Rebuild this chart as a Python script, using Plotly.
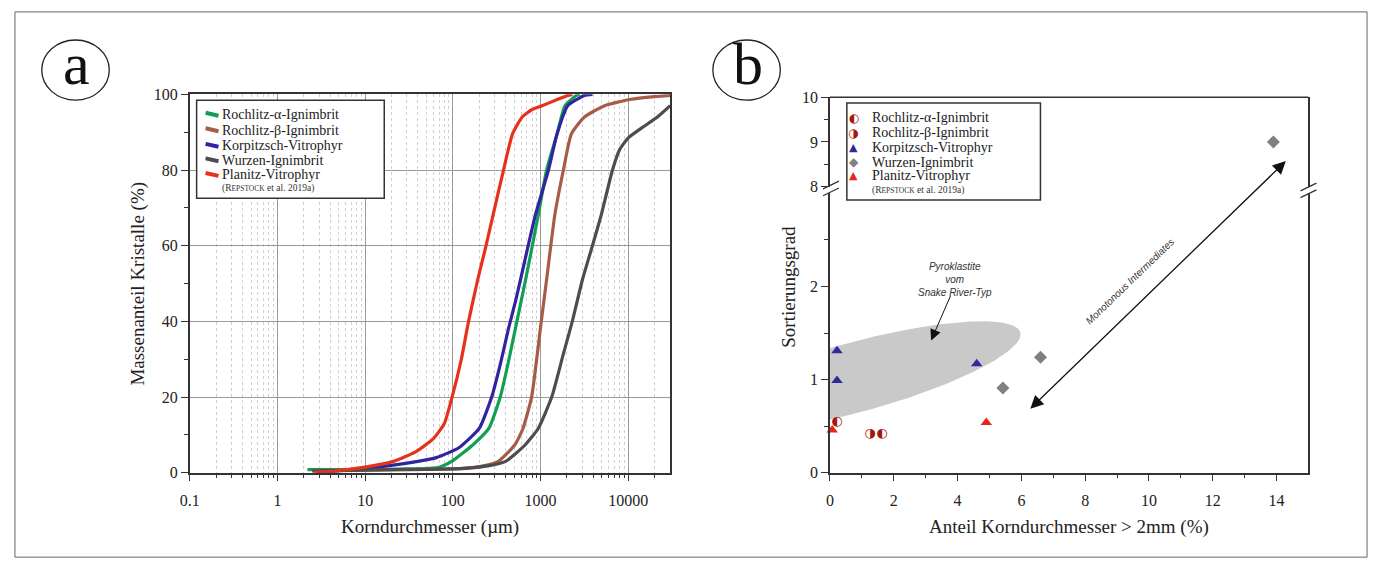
import numpy as np
import plotly.graph_objects as go

W, H = 1373, 571

# ---------------- Panel a data (grain size, µm  vs cumulative %) ----------------
names_a = ["Rochlitz-α-Ignimbrit", "Rochlitz-β-Ignimbrit", "Korpitzsch-Vitrophyr",
           "Wurzen-Ignimbrit", "Planitz-Vitrophyr"]
colors_a = ["#10a055", "#a65c48", "#3124a0", "#4d4d4d", "#e8311c"]

alpha_x = [2.2, 5, 10, 30, 65, 80, 100, 170, 257, 347, 427, 537, 675, 940, 1170, 1540, 1900, 2570, 2800]
alpha_y = [0.8, 0.8, 0.85, 1.0, 1.3, 2.0, 3.2, 7.4, 11.7, 20, 29, 40, 51, 68, 80, 89.5, 97, 99.7, 100]

beta_x = [2.5, 10, 50, 100, 140, 200, 330, 510, 630, 790, 1000, 1200, 1450, 1820, 2240, 3160, 5370, 10700, 20000, 30000]
beta_y = [0.5, 0.7, 0.9, 1.0, 1.2, 1.6, 3, 7.4, 11.7, 20, 38.5, 53, 68, 80, 89.5, 94, 97, 98.7, 99.4, 99.7]

korp_x = [2.8, 5, 10, 18, 40, 65, 117, 200, 277, 350, 430, 520, 590, 870, 1230, 1540, 2040, 3160, 3900]
korp_y = [0.1, 0.5, 1.2, 1.8, 3, 4, 6.6, 11.7, 20, 29, 38, 45.5, 51, 68, 80, 89.5, 97, 99.7, 100]

wurzen_x = [2.5, 10, 50, 100, 150, 250, 400, 670, 940, 1340, 1800, 2300, 3000, 3900, 4900, 6600, 8000, 10000, 15000, 21500, 30000]
wurzen_y = [0.5, 0.7, 0.9, 1.0, 1.2, 1.8, 3, 7.4, 11.7, 20, 31, 40, 51, 60, 68, 80, 85.5, 88.5, 91.5, 94, 97]

planitz_x = [2.6, 5, 10, 21, 38, 60, 80, 98, 125, 151, 192, 236, 300, 378, 478, 617, 800, 1040, 1500, 2040, 2300]
planitz_y = [0.1, 0.6, 1.5, 3, 5.6, 9, 13, 20, 30, 40, 51, 59.5, 70, 80, 89.5, 94, 96, 97, 98.5, 99.7, 100]

curves_a = [(alpha_x, alpha_y), (beta_x, beta_y), (korp_x, korp_y), (wurzen_x, wurzen_y), (planitz_x, planitz_y)]

xa_major = [0.1, 1, 10, 100, 1000, 10000]
xa_labels = ["0.1", "1", "10", "100", "1000", "10000"]
xa_minor = [m * 10.0 ** e for e in range(-1, 5) for m in range(2, 10) if m * 10.0 ** e < 30000]
ya_major = [0, 20, 40, 60, 80, 100]
ya_minor = [10, 30, 50, 70, 90]

# ---------------- Panel b data (share > 2 mm vs sorting) ----------------
names_b = ["Rochlitz-α-Ignimbrit", "Rochlitz-β-Ignimbrit", "Korpitzsch-Vitrophyr",
           "Wurzen-Ignimbrit", "Planitz-Vitrophyr"]
ralpha_x, ralpha_y = [0.22, 1.63], [0.55, 0.42]
rbeta_x, rbeta_y = [1.25], [0.42]
korp_b_x, korp_b_y = [0.22, 0.22, 4.6], [1.31, 0.99, 1.17]
wurzen_b_x, wurzen_b_y = [5.42, 6.6, 13.9], [0.91, 1.24, 9.0]
planitz_b_x, planitz_b_y = [0.07, 4.9], [0.46, 0.54]

xb_major = [0, 2, 4, 6, 8, 10, 12, 14]
xb_minor = [1, 3, 5, 7, 9, 11, 13]
yb_low_major, yb_low_minor = [0, 1, 2], [0.5, 1.5, 2.5]
yb_up_major, yb_up_minor = [8, 9, 10], [8.5, 9.5]

# ---------------- layout geometry ----------------
def px(x):
    return x / W

def py(y):
    return 1 - y / H

xa_dom = [px(181), px(665)]
ya_dom = [py(479), py(89)]
xb_dom = [px(826), px(1308)]
yb_low_dom = [py(479), py(191)]
yb_up_dom = [py(184), py(92)]
xb_rng = [0, 15]
yb_low_rng = [0, 3]
yb_up_rng = [8, 10]

SERIF = "Liberation Serif"
SANS = "Liberation Sans"
AX = "#333333"

fig = go.Figure()

for (xs, ys), nm, col in zip(curves_a, names_a, colors_a):
    fig.add_trace(go.Scatter(x=xs, y=ys, mode="lines", name=nm, showlegend=False,
                             line=dict(color=col, width=3.2, shape="spline", smoothing=0.5),
                             xaxis="x", yaxis="y"))

# Snake River field ellipse (px-based shape transformed to data units)
kx = (xb_dom[1] - xb_dom[0]) * W / (xb_rng[1] - xb_rng[0])
ky = (yb_low_dom[1] - yb_low_dom[0]) * H / (yb_low_rng[1] - yb_low_rng[0])
ell_cx, ell_cy, ell_a, ell_b, ell_th = 0.75, 1.02, 174, 36, np.deg2rad(15.6)
phi = np.linspace(0, 2 * np.pi, 240)
ex = ell_a * np.cos(phi) * np.cos(ell_th) - ell_b * np.sin(phi) * np.sin(ell_th)
ey = ell_a * np.cos(phi) * np.sin(ell_th) + ell_b * np.sin(phi) * np.cos(ell_th)
fig.add_trace(go.Scatter(x=ell_cx + ex / kx, y=ell_cy + ey / ky, mode="lines", fill="toself",
                         fillcolor="#c9c9c9", line=dict(width=0, color="#c9c9c9"),
                         showlegend=False, hoverinfo="skip", xaxis="x2", yaxis="y2"))

def split(xs, ys):
    lo = [(a, b) for a, b in zip(xs, ys) if b < 8]
    up = [(a, b) for a, b in zip(xs, ys) if b >= 8]
    return lo, up

def add_marker(xs, ys, name, **kw):
    lo, up = split(xs, ys)
    for pts, yax in ((lo, "y2"), (up, "y3")):
        if pts:
            fig.add_trace(go.Scatter(x=[p[0] for p in pts], y=[p[1] for p in pts], name=name,
                                     showlegend=False, xaxis="x2", yaxis=yax, cliponaxis=False, **kw))

add_marker(ralpha_x, ralpha_y, names_b[0], mode="text", text=["◐"] * len(ralpha_x),
           textfont=dict(family="DejaVu Sans", size=13, color="#a3170f"), textposition="middle center")
add_marker(rbeta_x, rbeta_y, names_b[1], mode="text", text=["◑"] * len(rbeta_x),
           textfont=dict(family="DejaVu Sans", size=13, color="#a3170f"), textposition="middle center")
add_marker(korp_b_x, korp_b_y, names_b[2], mode="markers",
           marker=dict(symbol="triangle-up", size=10, color="#2f2a9c"))
add_marker(wurzen_b_x, wurzen_b_y, names_b[3], mode="markers",
           marker=dict(symbol="diamond", size=10, color="#808080"))
add_marker(planitz_b_x, planitz_b_y, names_b[4], mode="markers",
           marker=dict(symbol="triangle-up", size=10, color="#e8251b"))

tickfont = dict(family=SERIF, size=16, color="#222")
common = dict(showline=True, linecolor=AX, linewidth=1.5, ticks="outside", ticklen=7,
              tickwidth=1.3, tickcolor=AX, tickfont=tickfont, zeroline=False)

fig.update_layout(
    width=W, height=H, margin=dict(l=0, r=0, t=0, b=0),
    paper_bgcolor="white", plot_bgcolor="white", showlegend=False,
    xaxis=dict(type="log", domain=xa_dom, range=[-1, np.log10(30000)], anchor="y",
               tickmode="array", tickvals=xa_major, ticktext=xa_labels, mirror=True,
               showgrid=True, gridcolor="#9a9a9a", gridwidth=1, ticklabelstandoff=5,
               minor=dict(tickmode="array", tickvals=xa_minor, ticks="outside", ticklen=4,
                          tickcolor=AX, showgrid=True, gridcolor="#d0d0d0", griddash="dot", gridwidth=1),
               **common),
    yaxis=dict(domain=ya_dom, range=[0, 100], anchor="x", tickmode="array", tickvals=ya_major,
               mirror=True, showgrid=True, gridcolor="#9a9a9a", gridwidth=1,
               minor=dict(tickmode="array", tickvals=ya_minor, ticks="outside", ticklen=4,
                          tickcolor=AX, showgrid=False),
               **common),
    xaxis2=dict(domain=xb_dom, range=xb_rng, anchor="y2", tickmode="array", tickvals=xb_major,
                showgrid=False, ticklabelstandoff=5,
                minor=dict(tickmode="array", tickvals=xb_minor, ticks="outside", ticklen=4, tickcolor=AX),
                **common),
    yaxis2=dict(domain=yb_low_dom, range=yb_low_rng, anchor="x2", tickmode="array",
                tickvals=yb_low_major, showgrid=False, mirror=True,
                minor=dict(tickmode="array", tickvals=yb_low_minor, ticks="outside", ticklen=4, tickcolor=AX),
                **common),
    yaxis3=dict(domain=yb_up_dom, range=yb_up_rng, anchor="x2", tickmode="array",
                tickvals=yb_up_major, showgrid=False, mirror=True,
                minor=dict(tickmode="array", tickvals=yb_up_minor, ticks="outside", ticklen=4, tickcolor=AX),
                **common),
)

shapes = []
ann = []

# outer frame
shapes.append(dict(type="rect", xref="paper", yref="paper", x0=px(5), x1=px(1367), y0=py(566), y1=py(4),
                   line=dict(color="#666", width=1)))
# top border of panel b
shapes.append(dict(type="line", xref="x2 domain", yref="y3 domain", x0=0, x1=1, y0=1, y1=1,
                   line=dict(color=AX, width=1.5)))
# axis break marks
for bx, by in ((827, 186), (1308, 188)):
    for off in (-3.5, 3.5):
        shapes.append(dict(type="line", xref="paper", yref="paper",
                           x0=px(bx - 8), y0=py(by + off + 4), x1=px(bx + 8), y1=py(by + off - 4),
                           line=dict(color=AX, width=1.3)))

# panel labels a / b
for cx, lab in ((66, "a"), (742, "b")):
    shapes.append(dict(type="circle", xref="paper", yref="paper", x0=px(cx - 34), x1=px(cx + 34),
                       y0=py(95), y1=py(33), line=dict(color="#222", width=1.3)))
    ann.append(dict(text=lab, x=px(cx + 1), y=py(58), xref="paper", yref="paper", showarrow=False,
                    xanchor="center", yanchor="middle", font=dict(family=SERIF, size=60, color="#111")))

# legend panel a
shapes.append(dict(type="rect", xref="paper", yref="paper", x0=px(188), x1=px(377), y0=py(196), y1=py(95),
                   line=dict(color=AX, width=1.5), fillcolor="white", layer="above"))
rows_a = [110, 126, 142, 157, 172]
for r, nm, col in zip(rows_a, names_a, colors_a):
    shapes.append(dict(type="line", xref="paper", yref="paper", x0=px(197), x1=px(210),
                       y0=py(r - 2), y1=py(r + 1), line=dict(color=col, width=4), layer="above"))
    ann.append(dict(text=nm, x=px(212), y=py(r), xref="paper", yref="paper", showarrow=False,
                    xanchor="left", yanchor="middle", font=dict(family=SERIF, size=14, color="#222")))
ref_txt = "(R<span style='font-size:7.5px'>EPSTOCK</span> et al. 2019a)"
ann.append(dict(text=ref_txt, x=px(212), y=py(186), xref="paper", yref="paper", showarrow=False,
                xanchor="left", yanchor="middle", font=dict(family=SERIF, size=9.5, color="#333")))

# legend panel b
shapes.append(dict(type="rect", xref="paper", yref="paper", x0=px(843), x1=px(1038), y0=py(198), y1=py(98),
                   line=dict(color=AX, width=1.5), fillcolor="white", layer="above"))
rows_b = [113, 128.5, 143.5, 159, 173]
syms_b = [("◐", "#a3170f", 12), ("◑", "#a3170f", 12), ("▲", "#2f2a9c", 11), ("◆", "#808080", 12), ("▲", "#e8251b", 11)]
for r, nm, (g, c, s) in zip(rows_b, names_b, syms_b):
    ann.append(dict(text=g, x=px(850), y=py(r), xref="paper", yref="paper", showarrow=False,
                    xanchor="center", yanchor="middle", font=dict(family="DejaVu Sans", size=s, color=c)))
    ann.append(dict(text=nm, x=px(866), y=py(r), xref="paper", yref="paper", showarrow=False,
                    xanchor="left", yanchor="middle", font=dict(family=SERIF, size=14, color="#222")))
ann.append(dict(text=ref_txt, x=px(866), y=py(188), xref="paper", yref="paper", showarrow=False,
                xanchor="left", yanchor="middle", font=dict(family=SERIF, size=9.5, color="#333")))

# axis titles
ttl = dict(family=SERIF, size=19, color="#222")
ann.append(dict(text="Korndurchmesser (µm)", x=(xa_dom[0] + xa_dom[1]) / 2, y=py(535), xref="paper",
                yref="paper", showarrow=False, xanchor="center", yanchor="middle", font=ttl))
ann.append(dict(text="Massenanteil Kristalle (%)", x=px(128), y=(ya_dom[0] + ya_dom[1]) / 2, xref="paper",
                yref="paper", showarrow=False, textangle=-90, xanchor="center", yanchor="middle", font=ttl))
ann.append(dict(text="Anteil Korndurchmesser > 2mm (%)", x=(xb_dom[0] + xb_dom[1]) / 2, y=py(535),
                xref="paper", yref="paper", showarrow=False, xanchor="center", yanchor="middle", font=ttl))
ann.append(dict(text="Sortierungsgrad", x=px(784), y=py(287), xref="paper", yref="paper", showarrow=False,
                textangle=-90, xanchor="center", yanchor="middle", font=ttl))

# in-plot annotations panel b
ital = dict(family=SANS, size=10, color="#333")
ann.append(dict(text="<i>Pyroklastite<br>vom<br>Snake River-Typ</i>", x=3.92, y=2.08, xref="x2", yref="y2",
                showarrow=False, xanchor="center", yanchor="middle", font=ital))
ann.append(dict(text="", x=3.17, y=1.42, xref="x2", yref="y2", showarrow=True, ax=20, ay=-46,
                arrowhead=2, arrowsize=2.2, arrowwidth=1, arrowcolor="#111"))
ann.append(dict(text="", x=14.29, y=8.57, xref="x2", yref="y3", showarrow=True, ax=-257, ay=249,
                arrowhead=2, arrowsize=2, arrowwidth=1.3, arrowcolor="#111", arrowside="end+start",
                startarrowhead=2, startarrowsize=2))
ann.append(dict(text="<i>Monotonous Intermediates</i>", x=9.4, y=2.05, xref="x2", yref="y2",
                showarrow=False, textangle=-44, xanchor="center", yanchor="middle", font=ital))

fig.update_layout(shapes=shapes, annotations=ann)
fig.write_html("out.html", post_script="document.body.style.margin='0';",
               config={"displayModeBar": False})
